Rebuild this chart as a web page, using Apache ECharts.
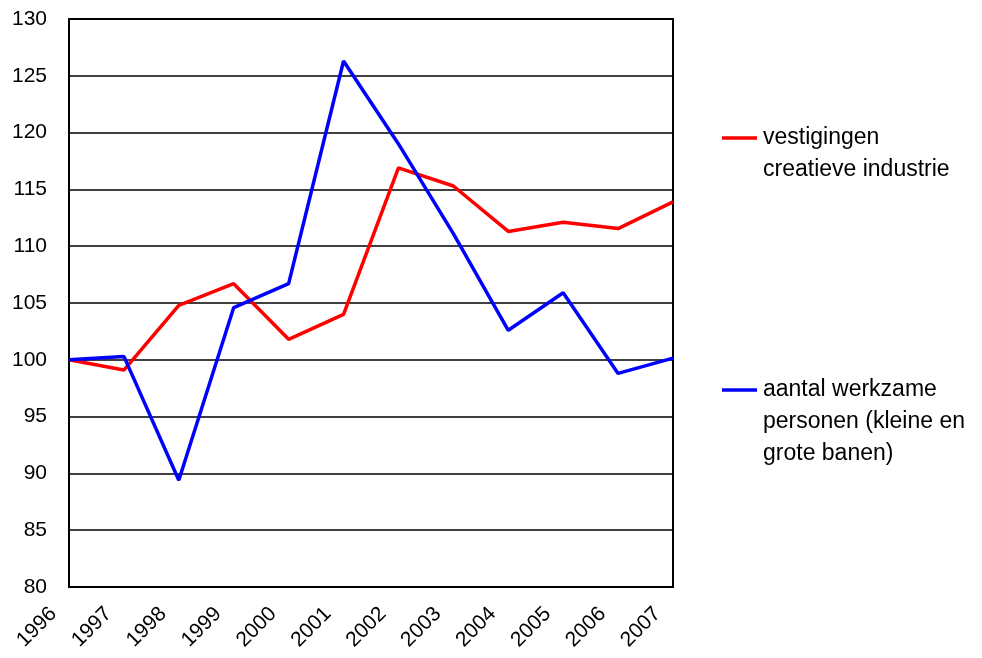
<!DOCTYPE html>
<html>
<head>
<meta charset="utf-8">
<script src="https://cdn.jsdelivr.net/npm/echarts@6/dist/echarts.min.js"></script>
<style>
  html, body { margin: 0; padding: 0; background: #fff; }
  #chart { width: 982px; height: 658px; }
</style>
</head>
<body>
<div id="chart"></div>
<script>
// jaren
const years = ["1996", "1997", "1998", "1999", "2000", "2001", "2002", "2003", "2004", "2005", "2006", "2007"];
// index 1996 = 100
const vestigingen = [100, 99.1, 104.8, 106.7, 101.8, 104.0, 116.9, 115.3, 111.3, 112.1, 111.55, 113.9];
const werkzamePersonen = [100, 100.3, 89.4, 104.6, 106.7, 126.3, 119.0, 111.1, 102.6, 105.9, 98.8, 100.15];
const seriesNames = ["vestigingen\ncreatieve industrie", "aantal werkzame\npersonen (kleine en\ngrote banen)"];
const seriesColors = ["#ff0000", "#0000ff"];

const font = "'Liberation Sans', Arial, sans-serif";
const chart = echarts.init(document.getElementById("chart"));

// legenda rechts, handmatig zodat het streepje bij de eerste regel staat
const legendTop = [138, 390];
const legendGraphics = [];
seriesNames.forEach((name, i) => {
  legendGraphics.push({
    type: "line",
    shape: { x1: 722, y1: legendTop[i], x2: 757, y2: legendTop[i] },
    style: { stroke: seriesColors[i], lineWidth: 3.5 },
  });
  legendGraphics.push({
    type: "text",
    left: 763,
    top: legendTop[i] - 16,
    style: {
      text: name,
      fill: "#000",
      fontSize: 23,
      fontFamily: font,
      lineHeight: 32,
    },
  });
});

chart.setOption({
  animation: false,
  backgroundColor: "#fff",
  grid: {
    left: 69,
    right: 309,
    top: 19,
    bottom: 71,
    show: true,
    borderColor: "#000",
    borderWidth: 2,
  },
  xAxis: {
    type: "category",
    boundaryGap: false,
    data: years,
    axisLine: { lineStyle: { color: "#000", width: 2 } },
    axisTick: { show: false },
    axisLabel: {
      rotate: 45,
      margin: 8,
      padding: [0, 22, 0, 0],
      color: "#000",
      fontSize: 21,
      fontFamily: font,
      interval: 0,
    },
    splitLine: { show: false },
  },
  yAxis: {
    type: "value",
    min: 80,
    max: 130,
    interval: 5,
    axisLine: { show: true, lineStyle: { color: "#000", width: 2 } },
    axisTick: { show: false },
    axisLabel: { color: "#000", fontSize: 21, fontFamily: font, margin: 22 },
    splitLine: { lineStyle: { color: "#000", width: 1.5 } },
  },
  series: [
    {
      name: seriesNames[0],
      type: "line",
      data: vestigingen,
      symbol: "none",
      lineStyle: { color: seriesColors[0], width: 3.5 },
      itemStyle: { color: seriesColors[0] },
    },
    {
      name: seriesNames[1],
      type: "line",
      data: werkzamePersonen,
      symbol: "none",
      lineStyle: { color: seriesColors[1], width: 3.5 },
      itemStyle: { color: seriesColors[1] },
    },
  ],
  graphic: legendGraphics,
});
</script>
</body>
</html>
